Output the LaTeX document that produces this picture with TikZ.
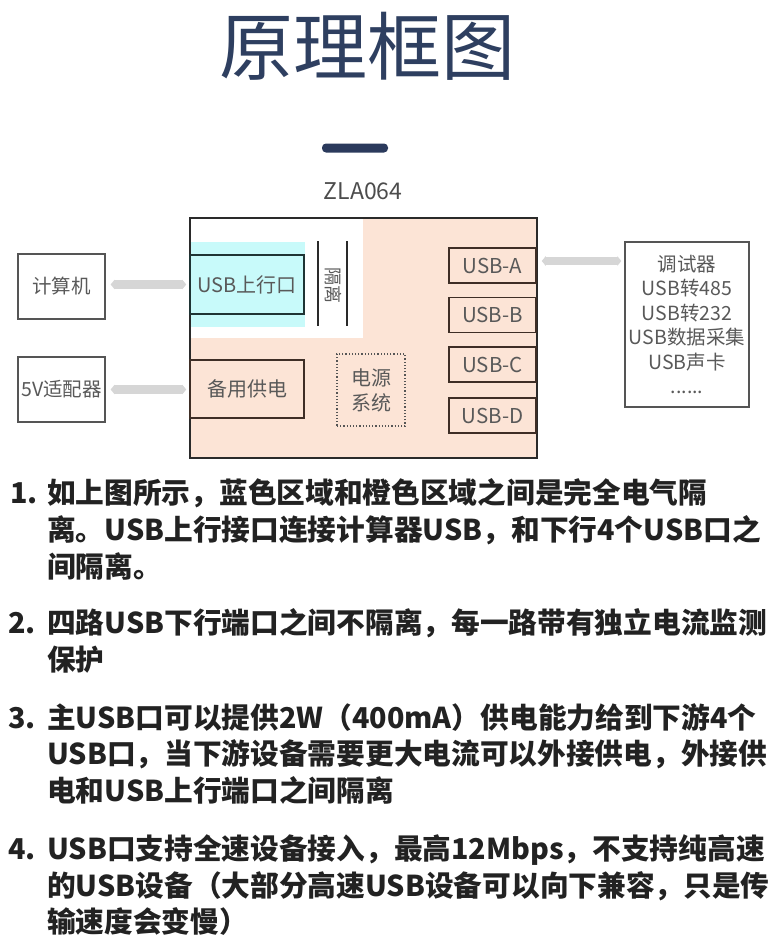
\documentclass[tikz,border=0pt]{standalone}
\usepackage{fontspec}
\setmainfont{Noto Sans CJK SC}
\usetikzlibrary{arrows.meta}
\definecolor{titlec}{HTML}{2E3F60}
\definecolor{barc}{HTML}{2B3A5C}
\definecolor{peach}{HTML}{FCE4D6}
\definecolor{cyanc}{HTML}{C8FAFA}
\definecolor{arrowgray}{HTML}{D6D6D6}
\definecolor{boxgray}{HTML}{555555}
\definecolor{mainline}{HTML}{2A2A2A}
\definecolor{brownline}{HTML}{3E2E26}
\definecolor{upline}{HTML}{1F3434}
\definecolor{txtgray}{HTML}{595959}
\definecolor{bodyc}{HTML}{222222}
\tikzset{
 boxl/.style={draw=boxgray, line width=1.3pt, fill=white, inner sep=0pt, text=txtgray, align=center, font=\fontsize{19.5}{24.5}\selectfont},
 usbbox/.style={draw=brownline, line width=1.5pt, fill=peach, minimum width=87pt, minimum height=35pt, inner sep=0pt, text=txtgray, font=\fontsize{20.5}{24}\selectfont},
 inbox/.style={line width=1.5pt, minimum width=114pt, inner sep=0pt, text=txtgray, font=\fontsize{20}{24}\selectfont},
 garrow/.style={draw=arrowgray, line width=8.5pt, {Triangle[width=9.5pt,length=4pt]}-{Triangle[width=9.5pt,length=4pt]}, shorten <=5pt, shorten >=3pt},
 bodyt/.style={anchor=base west, inner sep=0pt, text=bodyc, font=\fontsize{28.7}{34}\selectfont\bfseries},
}
\begin{document}
\begin{tikzpicture}[x=1pt,y=-1pt]
\useasboundingbox (0,0) rectangle (780,951);
% title
\node[inner sep=0pt, text=titlec, font=\fontsize{74}{80}\selectfont] (title) at (367.5,46) {原理框图};
\node[fill=barc, rounded corners=4pt, minimum width=66pt, minimum height=9pt, inner sep=0pt] (bar) at (355,148) {};
\node[inner sep=0pt, text=boxgray!90!black, font=\fontsize{23}{26}\selectfont] (zla) at (363,191) {ZLA064};
% main box
\node[fill=peach, minimum width=347pt, minimum height=240pt, inner sep=0pt] (main) at (363.5,338) {};
\fill[white] (190,218) rectangle (363,338);
\fill[cyanc] (191,242) rectangle (305,327);
\draw[mainline, line width=2pt] (main.north west) rectangle (main.south east);
% upstream
\node[inbox, draw=upline, minimum height=59pt] (up) at (247,284.5) {USB上行口};
\draw[mainline, line width=2pt] (318,241) -- (318,326);
\draw[mainline, line width=2pt] (347,241) -- (347,326);
\node[rotate=-90, inner sep=0pt, text=txtgray, font=\fontsize{18}{20}\selectfont] (iso) at (333,285) {隔离};
\node[inbox, draw=brownline, fill=peach, minimum height=58pt] (bak) at (247,389) {备用供电};
\node[draw=boxgray, line width=1.2pt, dotted, minimum width=68pt, minimum height=72pt, inner sep=0pt, align=center, text=txtgray, font=\fontsize{20}{25}\selectfont] (pwr) at (371,390) {电源\\系统};
% downstream ports
\node[usbbox] (ua) at (492.5,265.5) {USB-A};
\node[usbbox] (ub) at (492.5,315) {USB-B};
\node[usbbox] (uc) at (492.5,364.5) {USB-C};
\node[usbbox] (ud) at (492.5,415.5) {USB-D};
% external
\node[boxl, minimum width=87pt, minimum height=65pt] (pc) at (61.5,286.5) {计算机};
\node[boxl, minimum width=87pt, minimum height=65pt] (adp) at (61.5,389.5) {5V适配器};
\node[boxl, minimum width=124pt, minimum height=165pt] (dev) at (687,324.5) {调试器\\USB转485\\USB转232\\USB数据采集\\USB声卡\\......};
% connectors
\draw[garrow] ([yshift=2pt]pc.east) -- ([yshift=2pt]pc.east -| up.west);
\draw[garrow] (adp.east) -- (adp.east -| bak.west);
\draw[garrow] ([yshift=4.5pt]ua.east) -- ([yshift=4.5pt]ua.east -| dev.west);
% body text
\node[bodyt] (n1) at (10,503) {1.};
\node[bodyt] (t1a) at (47,503) {如上图所示，蓝色区域和橙色区域之间是完全电气隔};
\node[bodyt] (t1b) at (47,540) {离。USB上行接口连接计算器USB，和下行4个USB口之};
\node[bodyt] (t1c) at (47,577) {间隔离。};
\node[bodyt] (n2) at (8,633) {2.};
\node[bodyt] (t2a) at (47,633) {四路USB下行端口之间不隔离，每一路带有独立电流监测};
\node[bodyt] (t2b) at (47,670) {保护};
\node[bodyt] (n3) at (8,728) {3.};
\node[bodyt] (t3a) at (47,728) {主USB口可以提供2W（400mA）供电能力给到下游4个};
\node[bodyt] (t3b) at (47,764) {USB口，当下游设备需要更大电流可以外接供电，外接供};
\node[bodyt] (t3c) at (47,801) {电和USB上行端口之间隔离};
\node[bodyt] (n4) at (8,859) {4.};
\node[bodyt] (t4a) at (47,859) {USB口支持全速设备接入，最高12Mbps，不支持纯高速};
\node[bodyt] (t4b) at (47,896) {的USB设备（大部分高速USB设备可以向下兼容，只是传};
\node[bodyt] (t4c) at (47,932) {输速度会变慢）};
\end{tikzpicture}
\end{document}
